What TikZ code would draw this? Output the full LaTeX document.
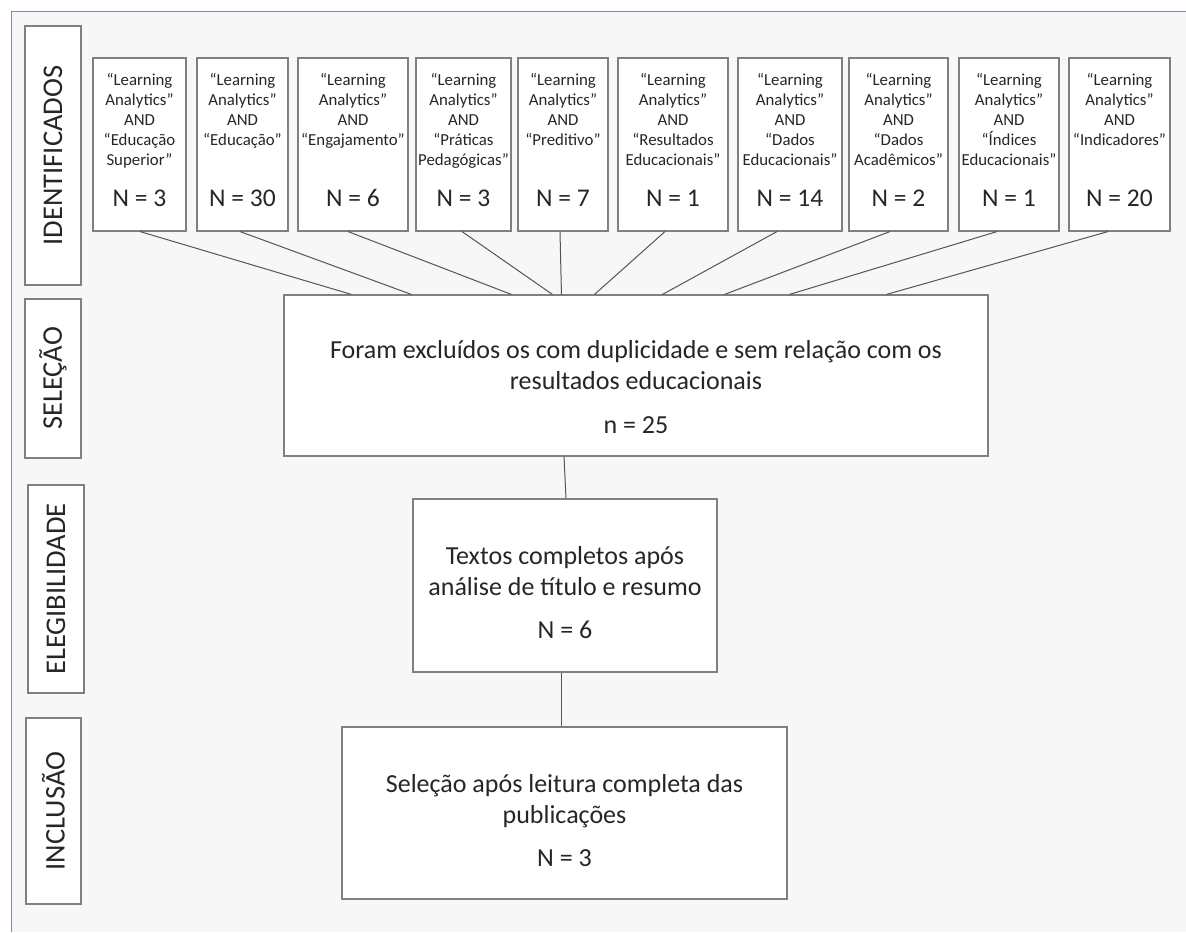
\documentclass[tikz,border=0pt]{standalone}
\usepackage{fontspec}
\setmainfont{Carlito}
\definecolor{bgc}{HTML}{F7F7F7}
\definecolor{boxline}{HTML}{808080}
\definecolor{conn}{HTML}{555555}
\definecolor{txt}{HTML}{262626}
\definecolor{framec}{HTML}{7C8CA8}
\tikzset{
  boxst/.style={draw=boxline, fill=white, line width=1.1pt, inner sep=0pt},
  qtext/.style={font=\fontsize{16.8}{20}\selectfont, align=center, inner sep=0pt, text=txt},
  ntext/.style={font=\fontsize{25.5}{28}\selectfont, inner sep=0pt, text=txt},
  bigtext/.style={font=\fontsize{26}{31.5}\selectfont, inner sep=0pt, text=txt},
  labst/.style={boxst, rotate=90, font=\fontsize{28.5}{32}\selectfont, text=txt},
  connst/.style={draw=conn, line width=1pt},
}
\newcommand\mkquerybox[5]{%
  \node[boxst, minimum width={#3-#2}, minimum height=173] (#1) at ({(#2+#3)/2},144.5) {};
  \node[qtext, anchor=north] (#1q) at ({(#2+#3)/2},73.5) {#4};
  \node[ntext, anchor=base] (#1n) at ({(#2+#3)/2},206.5) {#5};
}
\begin{document}
\begin{tikzpicture}[x=1pt,y=-1pt]
\useasboundingbox (0,0) rectangle (1186,932);
\fill[white] (0,0) rectangle (1186,932);
\fill[bgc] (11,11) rectangle (1186,932);
\draw[framec, line width=1pt] (11,932) -- (11,11) -- (1186,11);

% stage labels
\node[labst, minimum width=259, minimum height=56] (lid) at (53,155.5) {IDENTIFICADOS};
\node[labst, minimum width=159, minimum height=56] (lsel) at (53,378.5) {SELEÇÃO};
\node[labst, minimum width=208, minimum height=56] (lel) at (56,589) {ELEGIBILIDADE};
\node[labst, minimum width=186, minimum height=55] (linc) at (53.5,811) {INCLUSÃO};

% top boxes
\mkquerybox{b1}{93}{186}{“Learning\\Analytics”\\AND\\“Educação\\Superior”}{N = 3}
\mkquerybox{b2}{197}{288}{“Learning\\Analytics”\\AND\\“Educação”}{N = 30}
\mkquerybox{b3}{298}{408}{“Learning\\Analytics”\\AND\\“Engajamento”}{N = 6}
\mkquerybox{b4}{416}{511}{“Learning\\Analytics”\\AND\\“Práticas\\Pedagógicas”}{N = 3}
\mkquerybox{b5}{518}{608}{“Learning\\Analytics”\\AND\\“Preditivo”}{N = 7}
\mkquerybox{b6}{618}{728}{“Learning\\Analytics”\\AND\\“Resultados\\Educacionais”}{N = 1}
\mkquerybox{b7}{738}{842}{“Learning\\Analytics”\\AND\\“Dados\\Educacionais”}{N = 14}
\mkquerybox{b8}{849}{948}{“Learning\\Analytics”\\AND\\“Dados\\Acadêmicos”}{N = 2}
\mkquerybox{b9}{959}{1059}{“Learning\\Analytics”\\AND\\“Índices\\Educacionais”}{N = 1}
\mkquerybox{b10}{1069}{1170}{“Learning\\Analytics”\\AND\\“Indicadores”}{N = 20}

% stage boxes
\node[boxst, minimum width=704, minimum height=161] (sel) at (636,375.5) {};
\node[bigtext, anchor=base] (selt) at (636,358) {\parbox[t]{700pt}{\centering Foram excluídos os com duplicidade e sem relação com os\\ resultados educacionais\\[12pt] n = 25}};

\node[boxst, minimum width=304, minimum height=173] (elig) at (565,585.5) {};
\node[bigtext, anchor=base] (eligt) at (565,564) {\parbox[t]{300pt}{\centering Textos completos após\\ análise de título e resumo\\[11pt] N = 6}};

\node[boxst, minimum width=445, minimum height=172] (inc) at (564.5,813) {};
\node[bigtext, anchor=base] (inct) at (564.5,792) {\parbox[t]{440pt}{\centering Seleção após leitura completa das\\ publicações\\[11.5pt] N = 3}};

% connectors
\draw[connst] ([xshift=0.5pt]b1.south) -- ([xshift=68pt]sel.north west);
\draw[connst] ([xshift=-2.5pt]b2.south) -- ([xshift=128pt]sel.north west);
\draw[connst] ([xshift=-5pt]b3.south) -- ([xshift=228pt]sel.north west);
\draw[connst] ([xshift=-1.5pt]b4.south) -- ([xshift=269pt]sel.north west);
\draw[connst] ([xshift=-3pt]b5.south) -- ([xshift=278pt]sel.north west);
\draw[connst] ([xshift=-8pt]b6.south) -- ([xshift=311pt]sel.north west);
\draw[connst] ([xshift=-13pt]b7.south) -- ([xshift=379pt]sel.north west);
\draw[connst] ([xshift=-8.5pt]b8.south) -- ([xshift=441pt]sel.north west);
\draw[connst] ([xshift=-12pt]b9.south) -- ([xshift=506pt]sel.north west);
\draw[connst] ([xshift=-11.5pt]b10.south) -- ([xshift=603pt]sel.north west);

\draw[connst] ([xshift=-72pt]sel.south) -- ([xshift=1pt]elig.north);
\draw[connst] ([xshift=-4pt]elig.south) -- ([xshift=-3.5pt]inc.north);
\end{tikzpicture}
\end{document}
